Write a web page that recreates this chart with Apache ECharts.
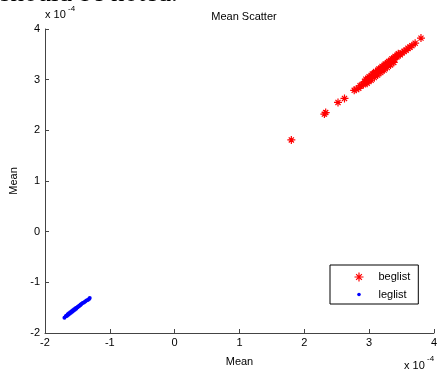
<!DOCTYPE html>
<html>
<head>
<meta charset="utf-8">
<script src="https://cdn.jsdelivr.net/npm/echarts@6/dist/echarts.min.js"></script>
<style>
  html, body { margin: 0; padding: 0; background: #fff; }
  #chart { width: 440px; height: 372px; }
</style>
</head>
<body>
<div id="chart"></div>
<script>
// values are in units of 1e-4
const xTicks = [-2, -1, 0, 1, 2, 3, 4];
const yTicks = [-2, -1, 0, 1, 2, 3, 4];

// beglist (red stars)
const begX = [1.80, 2.31, 2.33, 2.52, 2.62, 2.77, 2.80, 2.84, 2.86, 2.88, 2.91, 2.93, 2.94, 2.96, 2.98, 3.00, 3.01, 3.02, 3.04, 3.05, 3.07, 3.09, 3.10, 3.12, 3.14, 3.15, 3.17, 3.19, 3.21, 3.23, 3.25, 3.27, 3.29, 3.31, 3.33, 3.35, 3.37, 3.39, 3.41, 3.43, 3.46, 3.48, 3.51, 3.54, 3.57, 3.60, 3.63, 3.66, 3.71, 3.80,
  2.95, 3.00, 3.05, 3.10, 3.15, 3.20, 3.25, 3.30, 3.35, 3.40, 3.45, 2.97, 3.03, 3.08, 3.13, 3.18, 3.23, 3.28, 3.33, 3.38];
const begY = [1.81, 2.32, 2.35, 2.55, 2.63, 2.79, 2.81, 2.83, 2.88, 2.89, 2.90, 2.95, 2.96, 2.95, 3.00, 2.99, 3.04, 3.03, 3.07, 3.06, 3.11, 3.09, 3.14, 3.13, 3.17, 3.16, 3.21, 3.20, 3.25, 3.24, 3.29, 3.28, 3.33, 3.32, 3.37, 3.36, 3.41, 3.40, 3.45, 3.45, 3.50, 3.49, 3.53, 3.56, 3.58, 3.62, 3.64, 3.67, 3.72, 3.82,
  3.01, 3.06, 3.11, 3.16, 3.21, 3.26, 3.31, 3.36, 3.41, 3.46, 3.51, 2.93, 2.99, 3.04, 3.09, 3.14, 3.19, 3.24, 3.29, 3.34];

// leglist (blue dots)
const legX = [-1.70, -1.68, -1.67, -1.66, -1.65, -1.64, -1.63, -1.62, -1.61, -1.60, -1.59, -1.58, -1.57, -1.56, -1.55, -1.54, -1.53, -1.52, -1.51, -1.50, -1.49, -1.48, -1.47, -1.46, -1.45, -1.44, -1.42, -1.40, -1.38, -1.36, -1.34, -1.32, -1.31];
const legY = [-1.70, -1.67, -1.66, -1.66, -1.63, -1.64, -1.61, -1.62, -1.59, -1.60, -1.57, -1.58, -1.55, -1.56, -1.53, -1.54, -1.51, -1.52, -1.50, -1.49, -1.48, -1.47, -1.46, -1.45, -1.44, -1.43, -1.41, -1.40, -1.38, -1.36, -1.35, -1.33, -1.31];

const star = 'path://M0,5L10,5M5,0L5,10M1.8,1.8L8.2,8.2M1.8,8.2L8.2,1.8';
const dotIcon = 'path://M0,0L0,0M10,10L10,10M3,5a2,2 0 1,0 4,0a2,2 0 1,0 -4,0Z';

const chart = echarts.init(document.getElementById('chart'));
const font = 'Liberation Sans, Arial, sans-serif';

chart.setOption({
  backgroundColor: '#fff',
  animation: false,
  textStyle: { fontFamily: font },
  title: {
    text: 'Mean Scatter',
    left: 239, top: 6, textAlign: 'center',
    textStyle: { fontSize: 11, fontWeight: 'normal', color: '#000', fontFamily: font }
  },
  grid: { left: 43.5, right: 6, top: 29, bottom: 36 },
  legend: {
    orient: 'vertical',
    left: 330, top: 265,
    width: 88,
    borderColor: '#000', borderWidth: 1,
    padding: [5, 8, 4, 22],
    itemGap: 5,
    itemWidth: 9, itemHeight: 9,
    textStyle: { fontSize: 11, color: '#000', fontFamily: font, padding: [0, 0, 0, 10] },
    data: [
      { name: 'beglist', icon: star, itemStyle: { color: 'none', borderColor: '#ff0000', borderWidth: 1.2 } },
      { name: 'leglist', icon: dotIcon, itemStyle: { color: '#0000ff' } }
    ]
  },
  xAxis: {
    type: 'value', min: -2, max: 4, interval: 1,
    name: 'Mean', nameLocation: 'middle', nameGap: 23,
    nameTextStyle: { fontSize: 11, color: '#000', fontFamily: font },
    axisLine: { onZero: false, lineStyle: { color: '#444', width: 1 } },
    axisTick: { inside: true, length: 4, lineStyle: { color: '#444' } },
    axisLabel: { fontSize: 11, color: '#000', margin: 4 },
    splitLine: { show: false }
  },
  yAxis: {
    type: 'value', min: -2, max: 4, interval: 1,
    name: 'Mean', nameLocation: 'middle', nameGap: 26,
    nameTextStyle: { fontSize: 11, color: '#000', fontFamily: font },
    axisLine: { onZero: false, lineStyle: { color: '#444', width: 1 } },
    axisTick: { inside: true, length: 4, lineStyle: { color: '#444' } },
    axisLabel: { fontSize: 11, color: '#000', margin: 5 },
    splitLine: { show: false }
  },
  graphic: [
    {
      type: 'text', x: 0, y: 7.5,
      style: { text: 'should be noted.', font: '27px "Liberation Serif", serif', fill: '#000', verticalAlign: 'bottom' }
    },
    {
      type: 'text', left: 45, top: 9,
      style: { text: 'x 10', font: '11px ' + font, fill: '#000' }
    },
    {
      type: 'text', left: 68, top: 5,
      style: { text: '-4', font: '8px ' + font, fill: '#000' }
    },
    {
      type: 'text', left: 404, top: 360,
      style: { text: 'x 10', font: '11px ' + font, fill: '#000' }
    },
    {
      type: 'text', left: 427, top: 355,
      style: { text: '-4', font: '8px ' + font, fill: '#000' }
    }
  ],
  series: [
    {
      name: 'beglist',
      type: 'scatter',
      symbol: star,
      symbolSize: 8,
      itemStyle: { color: 'none', borderColor: '#ff0000', borderWidth: 1.2, opacity: 1 },
      data: begX.map((x, i) => [x, begY[i]])
    },
    {
      name: 'leglist',
      type: 'scatter',
      symbol: 'circle',
      symbolSize: 4,
      itemStyle: { color: '#0000ff', opacity: 1 },
      data: legX.map((x, i) => [x, legY[i]])
    }
  ]
});
</script>
</body>
</html>
